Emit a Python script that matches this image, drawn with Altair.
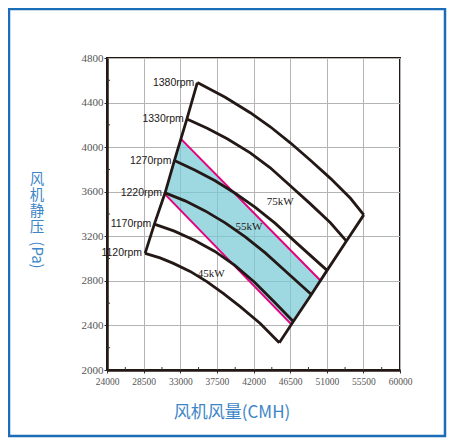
import altair as alt
import numpy as np
import pandas as pd

# ---- data ----
rpm_labels = ["1120rpm", "1170rpm", "1220rpm", "1270rpm", "1330rpm", "1380rpm"]
rpm_x = [
    [28680, 30520, 32160, 34220, 36270, 38280, 40370, 42830, 45170],
    [29820, 32280, 34750, 37210, 39670, 42130, 44590, 46890],
    [31140, 33600, 36060, 38520, 40990, 43450, 45910, 49110],
    [32280, 34830, 37290, 39750, 42220, 44680, 47140, 49600, 51040],
    [33810, 36310, 38770, 41600, 44060, 46520, 48990, 51450, 53420],
    [35100, 38520, 41600, 44060, 46520, 48990, 51450, 53910, 55550],
]
rpm_y = [
    [3047, 3006, 2957, 2885, 2793, 2687, 2569, 2418, 2245],
    [3309, 3246, 3165, 3066, 2941, 2788, 2608, 2436],
    [3590, 3518, 3428, 3321, 3195, 3051, 2889, 2678],
    [3880, 3792, 3698, 3586, 3460, 3316, 3150, 2988, 2894],
    [4252, 4169, 4075, 3949, 3815, 3653, 3491, 3321, 3157],
    [4580, 4448, 4309, 4183, 4039, 3882, 3720, 3541, 3392],
]
# magenta power boundaries (lower, upper)
mag_x = [[31080, 46650], [33110, 50220]]
mag_y = [[3581, 2409], [4072, 2803]]
kw_labels = ["45kW", "55kW", "75kW"]
kw_x = [36800, 41450, 45290]
kw_y = [2862, 3282, 3512]
x_ticks = [24000, 28500, 33000, 37500, 42000, 46500, 51000, 55500, 60000]
y_ticks = [2000, 2400, 2800, 3200, 3600, 4000, 4400, 4800]

BLACK = "#231815"
W, H = 293, 312

xs = alt.Scale(domain=[x_ticks[0], x_ticks[-1]], nice=False, zero=False)
ys = alt.Scale(domain=[y_ticks[0], y_ticks[-1]], nice=False, zero=False)

# curves table
rows = []
for lab, cx, cy in zip(rpm_labels, rpm_x, rpm_y):
    for i, (a, b) in enumerate(zip(cx, cy)):
        rows.append({"rpm": lab, "i": i, "x": a, "y": b})
curves = pd.DataFrame(rows)

# boundaries: through curve starts and curve ends
brows = []
for i, (cx, cy) in enumerate(zip(rpm_x, rpm_y)):
    brows.append({"side": "L", "i": i, "x": cx[0], "y": cy[0]})
    brows.append({"side": "R", "i": i, "x": cx[-1], "y": cy[-1]})
bounds = pd.DataFrame(brows)

# cyan polygon between the magenta lines (corners A,B,C,D)
A = (mag_x[0][0], mag_y[0][0]); B = (mag_x[1][0], mag_y[1][0])
C = (mag_x[1][1], mag_y[1][1]); D = (mag_x[0][1], mag_y[0][1])
px = sorted([A[0], B[0], C[0], D[0]])
top = np.interp(px, [A[0], B[0], C[0]], [A[1], B[1], C[1]])
bot = np.interp(px, [A[0], D[0], C[0]], [A[1], D[1], C[1]])
poly = pd.DataFrame({"x": px, "top": top, "bot": bot})

mag = pd.DataFrame([{"k": k, "i": i, "x": mag_x[k][i], "y": mag_y[k][i]}
                    for k in range(2) for i in range(2)])

starts = pd.DataFrame({"t": rpm_labels, "x": [c[0] for c in rpm_x], "y": [c[0] for c in rpm_y]})
kw = pd.DataFrame({"t": kw_labels, "x": kw_x, "y": kw_y})

xmin = pd.DataFrame({"v": [(a + b) / 2 for a, b in zip(x_ticks[:-1], x_ticks[1:])]})
ymin = pd.DataFrame({"v": [(a + b) / 2 for a, b in zip(y_ticks[:-1], y_ticks[1:])]})

xax = alt.Axis(values=x_ticks, format="d", title=None, labelFontSize=9.5, labelPadding=3,
               labelOverlap=False, labelFlush=False)
yax = alt.Axis(values=y_ticks, format="d", title=None, labelFontSize=11, labelPadding=1,
               labelOverlap=False, labelFlush=False)

def X(f):
    return alt.X(f, scale=xs, axis=xax)

def Y(f):
    return alt.Y(f, scale=ys, axis=yax)

area = alt.Chart(poly).mark_area(color="#79c9d6", opacity=0.72).encode(
    x=X("x:Q"), y=Y("top:Q"), y2="bot:Q",
)

mag_l = alt.Chart(mag).mark_line(color="#e4007f", strokeWidth=2).encode(
    x=X("x:Q"), y=Y("y:Q"), detail="k:N", order="i:Q")

curve_l = alt.Chart(curves).mark_line(color=BLACK, strokeWidth=2.8).encode(
    x=X("x:Q"), y=Y("y:Q"), detail="rpm:N", order="i:Q")

bound_l = alt.Chart(bounds).mark_line(color=BLACK, strokeWidth=2.8).encode(
    x=X("x:Q"), y=Y("y:Q"), detail="side:N", order="i:Q")

rpm_t = alt.Chart(starts).mark_text(align="right", baseline="middle", dx=-3,
                                     font="Liberation Sans", fontSize=10.5, color=BLACK).encode(
    x=X("x:Q"), y=Y("y:Q"), text="t:N")

kw_t = alt.Chart(kw).mark_text(align="center", baseline="middle",
                               font="Liberation Serif", fontSize=11, color=BLACK).encode(
    x=X("x:Q"), y=Y("y:Q"), text="t:N")

xminor = alt.Chart(xmin).mark_rule(color="#333333", strokeWidth=1).encode(
    x=X("v:Q"), y=alt.value(H), y2=alt.value(H - 3))
yminor = alt.Chart(ymin).mark_rule(color="#333333", strokeWidth=1).encode(
    y=Y("v:Q"), x=alt.value(0), x2=alt.value(3))

TITLE_C = "#3d85c6"
xt = alt.Chart(pd.DataFrame({"t": ["风机风量(CMH)"]})).mark_text(
    font="Noto Sans CJK SC", fontSize=17, color=TITLE_C, align="center", baseline="middle").encode(
    x=alt.value(125), y=alt.value(355), text="t:N")
yt1 = alt.Chart(pd.DataFrame({"t": ["风\n机\n静\n压"]})).mark_text(
    font="Noto Sans CJK SC", fontSize=14.5, color=TITLE_C, align="center", baseline="middle",
    lineBreak="\n", lineHeight=16).encode(
    x=alt.value(-70), y=alt.value(122), text="t:N")
yt2 = alt.Chart(pd.DataFrame({"t": ["(Pa)"]})).mark_text(
    font="Noto Sans CJK SC", fontSize=15, color=TITLE_C, align="center", baseline="middle",
    angle=90).encode(x=alt.value(-70), y=alt.value(197), text="t:N")

frame = alt.Chart(pd.DataFrame({"a": [0]})).mark_rect(
    fill=None, stroke="#1c6db8", strokeWidth=2.5).encode(
    x=alt.value(-98), x2=alt.value(338), y=alt.value(-49), y2=alt.value(378))

chart = alt.layer(area, mag_l, curve_l, bound_l, rpm_t, kw_t, xminor, yminor,
                  xt, yt1, yt2, frame).properties(
    width=W, height=H,
    autosize=alt.AutoSizeParams(type="none"),
    padding={"left": 99, "top": 50, "right": 47, "bottom": 68},
).configure_view(stroke=BLACK, strokeWidth=2).configure_axis(
    labelFont="Liberation Serif", labelColor="#555555", tickColor="#333333", tickSize=3,
    domainColor=BLACK, domainWidth=2.5, gridColor="#b4b4b4", gridWidth=1,
    labelOverlap=False, labelFlush=False,
)

chart.save("out.html", embed_options={"renderer": "svg", "actions": False})
